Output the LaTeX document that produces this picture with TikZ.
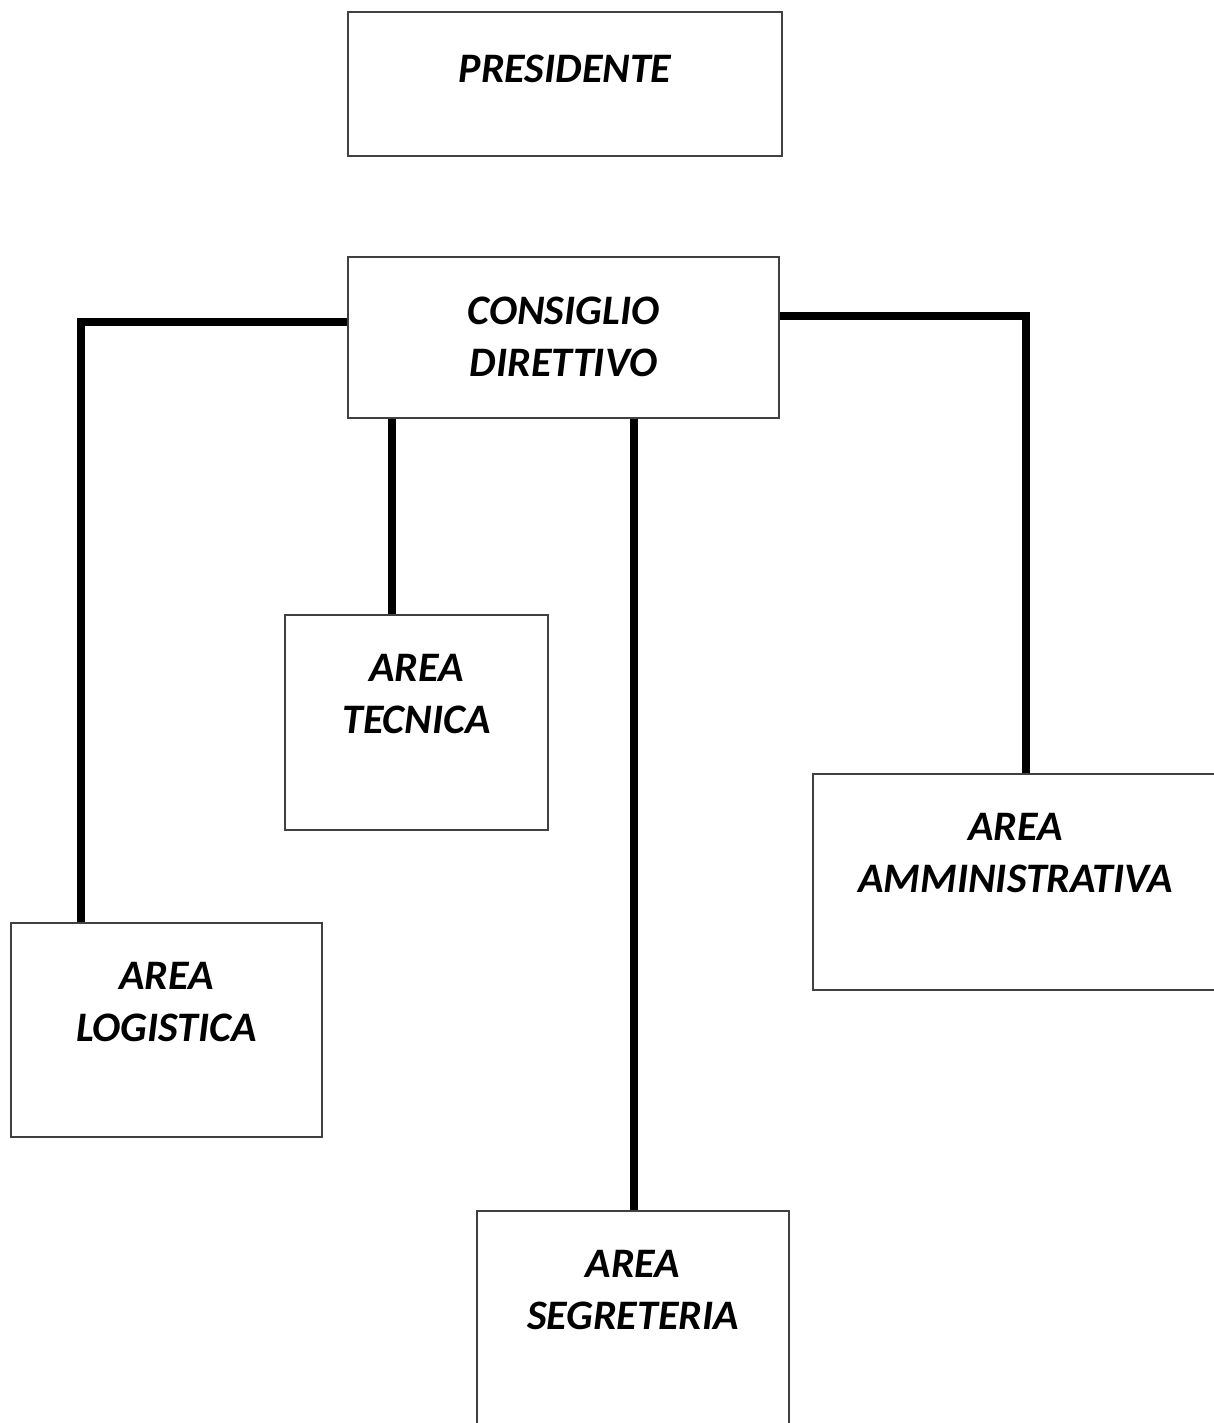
\documentclass[tikz,border=0pt]{standalone}
\usepackage{fontspec}
\setmainfont{Carlito}
\usetikzlibrary{positioning}

\begin{document}
\begin{tikzpicture}[x=0.5pt,y=-0.5pt,
    box/.style={draw=black!75,line width=0.7pt,inner sep=0pt},
    boxtext/.style={inner sep=0pt,align=center,
      font=\fontsize{21}{26}\selectfont\bfseries\itshape},
    link/.style={line width=4pt}]
  \useasboundingbox (0,0) rectangle (1214,1423);
  % boxes
  \node[box,minimum width=217pt,minimum height=72pt] (pres) at (565,84) {};
  \node[box,minimum width=215.5pt,minimum height=80.5pt] (cons) at (563.5,337.5) {};
  \node[box,minimum width=131.5pt,minimum height=107.5pt] (tec) at (416.5,722.5) {};
  \node[box,minimum width=202.5pt,minimum height=108pt] (amm) at (1015.5,882) {};
  \node[box,minimum width=155.5pt,minimum height=107pt] (log) at (166.5,1030) {};
  \node[box,minimum width=156pt,minimum height=108pt] (seg) at (633,1319) {};
  % texts
  \node[boxtext,below=21.5pt of pres.north] (pres-t) {PRESIDENTE};
  \node[boxtext,below=20pt of cons.north] (cons-t) {CONSIGLIO\\DIRETTIVO};
  \node[boxtext,below=20pt of tec.north] (tec-t) {AREA\\TECNICA};
  \node[boxtext,below=20pt of amm.north] (amm-t) {AREA\\AMMINISTRATIVA};
  \node[boxtext,below=20pt of log.north] (log-t) {AREA\\LOGISTICA};
  \node[boxtext,below=20pt of seg.north] (seg-t) {AREA\\SEGRETERIA};
  % connectors
  \draw[link] ([yshift=7.75pt]cons.west) -| ([xshift=-42.75pt]log.north);
  \draw[link] ([yshift=10.75pt]cons.east) -| ([xshift=5pt]amm.north);
  \draw[link] ([xshift=-12.25pt]tec.north) -- ([xshift=-12.25pt]tec.north |- cons.south);
  \draw[link] ([xshift=0.5pt]seg.north) -- ([xshift=0.5pt]seg.north |- cons.south);
\end{tikzpicture}
\end{document}
